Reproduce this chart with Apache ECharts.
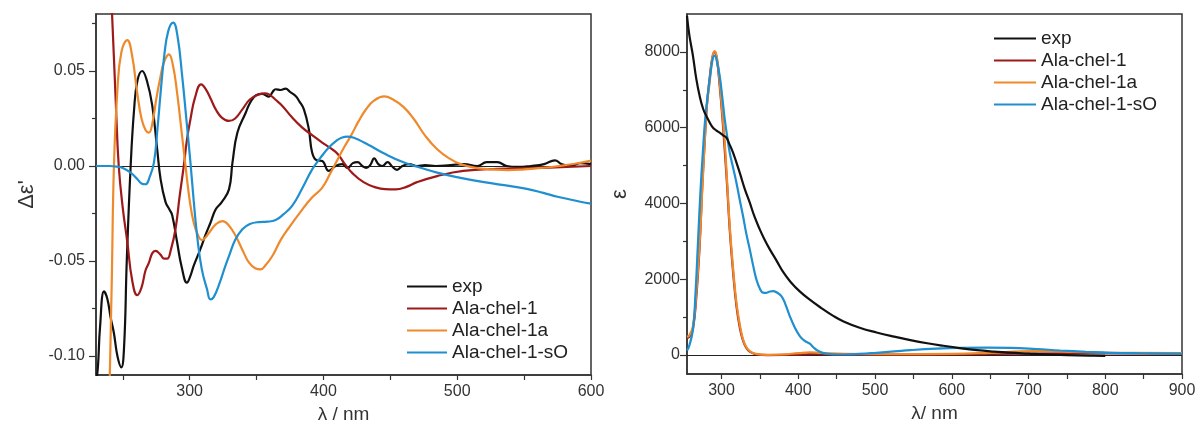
<!DOCTYPE html>
<html><head><meta charset="utf-8">
<script src="https://cdn.jsdelivr.net/npm/echarts@6/dist/echarts.min.js"></script>
<style>html,body{margin:0;padding:0;background:#fff}#c{width:1200px;height:430px}</style>
</head><body><div id="c"></div>
<script>
// ---- Left panel: CD spectra (Δε' vs λ) ----
const cdExp = [[230,-0.115],[231.5,-0.105],[233,-0.085],[236,-0.066],[238.5,-0.07],[241,-0.08],[243.4,-0.088],[246,-0.1],[248.9,-0.106],[251,-0.095],[253,-0.05],[255.9,0],[258.5,0.03],[261,0.045],[264.5,0.05],[268,0.045],[272,0.032],[275.7,0.009],[278.3,-0.007],[282,-0.019],[285,-0.023],[287,-0.026],[290.6,-0.04],[294,-0.053],[298,-0.0614],[300.5,-0.058],[303,-0.0526],[308,-0.0438],[312,-0.036],[315.5,-0.03],[319.5,-0.0228],[324,-0.019],[329.4,-0.0123],[332,0.0018],[335.7,0.0176],[341.9,0.028],[345,0.033],[349.4,0.0372],[354,0.038],[359.3,0.0365],[362,0.039],[364.3,0.0404],[368,0.04],[371.7,0.0407],[375,0.039],[379.2,0.0368],[382,0.034],[385.4,0.0298],[389.1,0.0193],[391.6,0.007],[395,0.003],[399.1,0.0026],[404,-0.0026],[409,0],[414,0.001],[418,-0.001],[422,0.0015],[425.5,0.002],[429,0],[432,-0.001],[435,0.0005],[438,0.004],[441,0.001],[444,0],[448,0.002],[451,0],[455,-0.002],[459,0],[464,0.001],[470,0],[476,0.0005],[484,0],[495,0.0005],[505,0.001],[515,0],[522,0.002],[530,0.002],[537,0],[545,-0.0005],[555,0],[565,0.001],[573,0.003],[578,0.001],[585,0],[592,0.0015],[600,0.001]];
const cdAla1 = [[234,0.2],[238,0.14],[242,0.08],[245,0.03],[247,0],[250,-0.022],[253.4,-0.04],[257,-0.06],[260.8,-0.068],[264,-0.064],[267,-0.055],[269.5,-0.051],[272,-0.046],[274.5,-0.0447],[278,-0.0465],[281,-0.0488],[283.2,-0.0488],[286,-0.044],[289.4,-0.0333],[292.5,-0.016],[295.6,0],[298,0.014],[300.6,0.0246],[304,0.036],[308.6,0.043],[312,0.0405],[316,0.035],[319.5,0.0298],[324,0.0255],[329.4,0.0237],[334,0.025],[339.4,0.0298],[345,0.035],[351.8,0.0377],[356,0.0382],[359.3,0.0377],[364,0.035],[369.3,0.0316],[376,0.026],[384.2,0.0202],[392,0.016],[399.1,0.0123],[405,0.0095],[410.5,0.0065],[416,0.001],[422,-0.004],[430,-0.0085],[438,-0.011],[446,-0.0122],[454,-0.0123],[462,-0.011],[470,-0.0085],[485,-0.0053],[504.5,-0.0026],[530,-0.0015],[560,-0.001],[600,0]];
const cdAla1a = [[236,-0.25],[240,-0.12],[241.8,-0.06],[243.4,0],[246,0.04],[249,0.06],[253.4,0.0663],[257,0.058],[260.8,0.0386],[264,0.025],[267,0.019],[269.5,0.0176],[272,0.022],[275,0.035],[278.3,0.0474],[281,0.055],[284.5,0.0588],[287.5,0.053],[290.6,0.0386],[294,0.018],[296.9,0],[300,-0.018],[303,-0.0298],[306,-0.036],[309.3,-0.039],[312,-0.0375],[315.5,-0.0342],[319.5,-0.0307],[324.5,-0.029],[329,-0.031],[334.4,-0.0368],[340,-0.045],[344.4,-0.0509],[349,-0.0538],[353,-0.0544],[357,-0.052],[361.8,-0.0474],[368,-0.039],[374.2,-0.0325],[383,-0.024],[391.6,-0.0165],[399,-0.0115],[405,-0.004],[411,0.004],[416,0.0105],[421,0.0165],[426,0.0232],[432,0.03],[438,0.0345],[445.4,0.0366],[452,0.035],[460,0.031],[467.7,0.0246],[476,0.016],[485,0.0088],[494,0.004],[502.5,0.001],[514,-0.001],[526.4,-0.0018],[538,-0.0022],[550,-0.0018],[563,-0.001],[576,0],[588,0.0012],[600,0.0028]];
const cdAla1sO = [[230,0],[240,0],[245.6,-0.0003],[250,-0.001],[255.9,-0.0035],[261,-0.007],[264,-0.0092],[267,-0.0096],[270,-0.006],[273.3,0.0018],[276,0.02],[278.3,0.0386],[281,0.058],[284,0.071],[287.7,0.0755],[291,0.068],[294.4,0.0474],[297.5,0.025],[300.6,0.0018],[303,-0.018],[305.6,-0.0368],[309,-0.054],[313,-0.0649],[315.5,-0.0702],[318,-0.069],[322.5,-0.0614],[326,-0.054],[329.4,-0.0474],[334,-0.039],[339.4,-0.0333],[345,-0.0305],[351.8,-0.0295],[358,-0.0293],[364.3,-0.0284],[370,-0.0255],[376.6,-0.021],[384,-0.012],[391.6,-0.0018],[398,0.0045],[404,0.0097],[410,0.0135],[413.5,0.0149],[418,0.0155],[424,0.0145],[430,0.0125],[435.4,0.0105],[447,0.006],[460.3,0.0018],[472,-0.0008],[485,-0.0035],[501.5,-0.0061],[520,-0.0085],[538.8,-0.0105],[552,-0.012],[563.7,-0.014],[575,-0.0162],[583.6,-0.0175],[592,-0.0188],[600,-0.0198]];

// ---- Right panel: absorption spectra (ε vs λ) ----
const absExp = [[255,8950],[258,8450],[262.8,7890],[267,7300],[271.5,6834],[276,6500],[280.2,6306],[285,6120],[288.9,6000],[293,5930],[297.6,5868],[302,5800],[306.3,5736],[310,5580],[315,5340],[323.7,4813],[330,4400],[336.8,4021],[343,3650],[349.8,3317],[356,3050],[362.9,2789],[372,2480],[380,2200],[390,1930],[401.9,1680],[415,1460],[430,1240],[445,1040],[459,885],[480,720],[502,595],[525,485],[546,395],[568,312],[589,245],[610,185],[633,130],[655,92],[676,63],[700,38],[720,18],[750,0],[780,-15],[800,-22]];
const absAla1 = [[255,450],[258,480],[262.8,700],[267,1500],[271.5,2900],[275,4500],[278,5600],[281,6600],[284.5,7300],[288,7850],[291,8000],[294,7800],[297.6,7100],[301,6300],[304.2,5400],[307.5,4400],[310.7,3300],[315,2200],[319.4,1300],[324,700],[328,380],[332,200],[336.8,90],[345,20],[360,0],[400,10],[420,30],[460,10],[520,10],[600,20],[700,40],[800,45],[900,40]];
const absAla1a = [[255,480],[258,520],[262.8,765],[267,1600],[271.5,2966],[275,4400],[278,5604],[281,6600],[284.5,7187],[288,7850],[291.1,8021],[294,7850],[297.6,7187],[301,6400],[304.2,5604],[307.5,4500],[310.7,3404],[315,2300],[319.4,1383],[324,780],[328,414],[332,220],[336.8,106],[345,30],[360,5],[380,15],[400,50],[415,70],[430,55],[460,30],[520,25],[600,30],[650,60],[690,100],[720,110],[760,80],[820,60],[900,50]];
const absAla1sO = [[255,120],[258,250],[262.8,676],[266,1600],[269.3,2966],[272.5,4300],[275.9,5427],[279,6300],[282.4,6923],[286,7500],[289,7850],[291.1,7900],[294,7750],[297.6,7363],[301,6800],[304.2,6219],[307.5,5750],[310.7,5340],[315,4950],[319.4,4549],[323.7,4100],[328,3668],[332,3230],[336.8,2789],[341,2380],[345.4,1997],[350,1750],[354.1,1646],[358,1640],[362,1670],[367.2,1689],[372,1650],[378,1557],[383,1350],[388.9,1029],[395,750],[402,501],[408,380],[415,300],[420,200],[426,110],[432.8,50],[445,20],[459,15],[480,30],[502,60],[525,95],[546,130],[580,170],[611,190],[645,195],[676,190],[710,160],[741,120],[775,85],[806,60],[850,48],[900,40]];

// ---- tick positions / labels ----
const leftXLabels = [300, 400, 500, 600];
const leftXTicks = [250, 300, 350, 400, 450, 500, 550, 600];
const leftYLabels = [-0.1, -0.05, 0, 0.05];
const leftYMinor = [-0.075, -0.025, 0.025, 0.075];
const rightXLabels = [300, 400, 500, 600, 700, 800, 900];
const rightXTicks = [300, 350, 400, 450, 500, 550, 600, 650, 700, 750, 800, 850, 900];
const rightYLabels = [0, 2000, 4000, 6000, 8000];
const rightYMinor = [1000, 3000, 5000, 7000];

const names = ['exp', 'Ala-chel-1', 'Ala-chel-1a', 'Ala-chel-1-sO'];
const colors = ['#111111', '#9e1a1a', '#ee8a2c', '#1f8fd0'];

const FONT = '"Liberation Sans", Arial, sans-serif';
const TXT = '#333';
const AX = '#333';

function xAxisCfg(grid, min, max, labels, ticks, name) {
  return {
    type: 'value', gridIndex: grid, min: min, max: max,
    name: name, nameLocation: 'middle', nameGap: 30,
    nameTextStyle: { fontFamily: FONT, fontSize: 19, color: TXT },
    axisLine: { show: true, onZero: false, lineStyle: { color: AX, width: 1.5 } },
    axisTick: { show: true, inside: false, length: 5, customValues: ticks, lineStyle: { color: AX, width: 1.2 } },
    axisLabel: { customValues: labels, fontFamily: FONT, fontSize: 16, color: TXT, margin: 9, formatter: v => String(v) },
    splitLine: { show: false }
  };
}
function yAxisCfg(grid, min, max, labels, fmt, name, gap, margin) {
  return {
    type: 'value', gridIndex: grid, min: min, max: max, position: 'left',
    name: name, nameLocation: 'middle', nameGap: gap, nameRotate: 90,
    nameTextStyle: { fontFamily: FONT, fontSize: 22, color: TXT },
    axisLine: { show: true, onZero: false, lineStyle: { color: AX, width: 1.5 } },
    axisTick: { show: true, inside: false, length: 7, customValues: labels, lineStyle: { color: AX, width: 1.2 } },
    axisLabel: { customValues: labels, fontFamily: FONT, fontSize: 16, color: TXT, margin: margin, formatter: fmt },
    splitLine: { show: false }
  };
}
function yMinorCfg(grid, min, max, ticks) {
  return {
    type: 'value', gridIndex: grid, min: min, max: max, position: 'left', offset: 0,
    axisLine: { show: false, onZero: false },
    axisTick: { show: true, inside: false, length: 4, customValues: ticks, lineStyle: { color: AX, width: 1.2 } },
    axisLabel: { show: false }, splitLine: { show: false }
  };
}

const leftData = [cdExp, cdAla1, cdAla1a, cdAla1sO];
const rightData = [absExp, absAla1, absAla1a, absAla1sO];

const series = [];
leftData.forEach((d, i) => {
  series.push({
    name: names[i], type: 'line', xAxisIndex: 0, yAxisIndex: 0, data: d,
    showSymbol: false, symbol: 'none', smooth: 0.45, clip: true,
    lineStyle: { color: colors[i], width: 2.2 }, itemStyle: { color: colors[i] },
    z: 3 + i,
    markLine: i === 0 ? { silent: true, symbol: ['none', 'none'], label: { show: false },
      lineStyle: { color: '#222', width: 1, type: 'solid' }, data: [{ yAxis: 0 }], animation: false, z: 2 } : undefined
  });
});
rightData.forEach((d, i) => {
  series.push({
    name: names[i], type: 'line', xAxisIndex: 1, yAxisIndex: 2, data: d,
    showSymbol: false, symbol: 'none', smooth: 0.45, clip: true,
    lineStyle: { color: colors[i], width: 2.2 }, itemStyle: { color: colors[i] },
    z: 3 + (i === 0 ? 4 : i),
    markLine: i === 0 ? { silent: true, symbol: ['none', 'none'], label: { show: false },
      lineStyle: { color: '#222', width: 1, type: 'solid' }, data: [{ yAxis: 0 }], animation: false, z: 2 } : undefined
  });
});

const legendData = names.map((n, i) => ({ name: n, icon: 'rect', itemStyle: { color: colors[i] } }));

const chart = echarts.init(document.getElementById('c'), null, { renderer: 'canvas' });
chart.setOption({
  animation: false,
  backgroundColor: '#fff',
  grid: [
    { left: 96, top: 14, width: 495, height: 361, show: true, borderColor: AX, borderWidth: 1.5, backgroundColor: 'transparent' },
    { left: 687, top: 14, width: 495, height: 360, show: true, borderColor: AX, borderWidth: 1.5, backgroundColor: 'transparent' }
  ],
  xAxis: [
    xAxisCfg(0, 230, 600, leftXLabels, leftXTicks, 'λ / nm'),
    xAxisCfg(1, 255, 900, rightXLabels, rightXTicks, 'λ/ nm')
  ],
  yAxis: [
    yAxisCfg(0, -0.11, 0.08, leftYLabels, v => v.toFixed(2), "Δε'", 58, 11),
    yMinorCfg(0, -0.11, 0.08, leftYMinor),
    yAxisCfg(1, -500, 9000, rightYLabels, v => String(v), 'ε', 56, 7),
    yMinorCfg(1, -500, 9000, rightYMinor)
  ],
  legend: [
    { left: 407, top: 277, orient: 'vertical', padding: 0, itemGap: 3, itemWidth: 40, itemHeight: 2,
      data: legendData, textStyle: { fontFamily: FONT, fontSize: 19, lineHeight: 19, color: '#222' }, selectedMode: false },
    { left: 994, top: 29, orient: 'vertical', padding: 0, itemGap: 3, itemWidth: 42, itemHeight: 2,
      data: legendData, textStyle: { fontFamily: FONT, fontSize: 19, lineHeight: 19, color: '#222' }, selectedMode: false }
  ],
  series: series
});
</script></body></html>
